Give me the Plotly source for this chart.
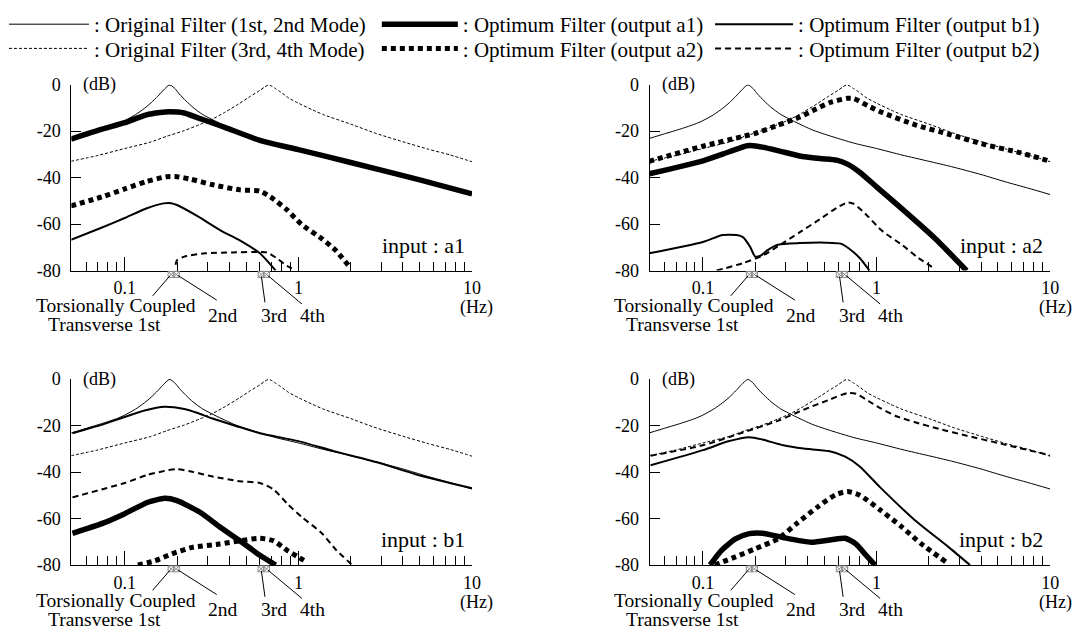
import numpy as np
import plotly.graph_objects as go

# ---------------- data ----------------
# Original filters (identical in all four panels)
ORIG12_HZ = [0.049, 0.06, 0.075, 0.09, 0.1, 0.115, 0.13, 0.142, 0.155, 0.165, 0.175, 0.18, 0.185,
             0.195, 0.206, 0.225, 0.247, 0.28, 0.326, 0.38, 0.43, 0.5, 0.59, 0.75, 1.0, 1.4, 2.0,
             2.7, 4.0, 5.5, 7.5, 10]
ORIG12_DB = [-23.2, -21.2, -19.0, -17.0, -15.5, -13.0, -10.2, -7.8, -5.0, -2.8, -0.9, -0.2, -0.4,
             -1.8, -4.0, -7.0, -9.8, -12.8, -15.4, -17.8, -19.6, -21.3, -23.0, -25.3, -27.5, -30.3,
             -33.0, -35.3, -38.7, -41.8, -44.6, -47.3]
ORIG34_HZ = [0.049, 0.07, 0.1, 0.14, 0.175, 0.22, 0.27, 0.317, 0.38, 0.46, 0.53, 0.6, 0.64, 0.67,
             0.7, 0.74, 0.79, 0.88, 1.0, 1.2, 1.4, 2.0, 2.8, 4.0, 5.6, 7.5, 10]
ORIG34_DB = [-33.0, -30.5, -27.5, -24.8, -22.2, -19.8, -17.2, -15.0, -11.8, -8.0, -5.0, -2.5, -1.0,
             -0.2, -0.6, -1.8, -3.2, -5.8, -8.0, -10.8, -13.0, -17.0, -21.0, -24.6, -27.8, -30.3, -33.2]

# input a1
IN_A1_OUT_A1_HZ = [0.049, 0.074, 0.1, 0.133, 0.16, 0.18, 0.22, 0.264, 0.317, 0.38, 0.6, 1.0, 2.0, 5.0, 10]
IN_A1_OUT_A1_DB = [-23.5, -19.2, -16.4, -13.0, -12.0, -11.7, -12.2, -14.3, -16.4, -18.5, -24.0, -28.0,
                   -33.5, -41.0, -47.0]
IN_A1_OUT_A2_HZ = [0.049, 0.074, 0.1, 0.133, 0.175, 0.2, 0.24, 0.317, 0.46, 0.6, 0.69, 0.86, 1.04,
                   1.37, 1.64, 1.95]
IN_A1_OUT_A2_DB = [-52.2, -48.3, -44.9, -41.7, -39.6, -39.6, -40.7, -43.0, -45.3, -45.8, -48.3, -53.9,
                   -60.1, -66.4, -71.3, -78.0]
IN_A1_OUT_B1_HZ = [0.049, 0.074, 0.1, 0.133, 0.167, 0.185, 0.2, 0.264, 0.36, 0.46, 0.6, 0.74]
IN_A1_OUT_B1_DB = [-66.8, -61.5, -57.4, -53.3, -51.1, -51.0, -51.8, -56.7, -62.9, -67.0, -72.6, -80.0]
IN_A1_OUT_B2_HZ = [0.196, 0.2, 0.22, 0.29, 0.42, 0.55, 0.66, 0.75, 0.86, 0.95]
IN_A1_OUT_B2_DB = [-77.5, -75.5, -74.0, -72.6, -72.2, -72.0, -72.2, -74.7, -78.0, -79.6]

# input a2
IN_A2_OUT_A1_HZ = [0.049, 0.1, 0.142, 0.18, 0.206, 0.27, 0.36, 0.47, 0.59, 0.68, 0.8, 1.0, 1.35, 2.13, 3.3]
IN_A2_OUT_A1_DB = [-38.4, -32.8, -28.9, -26.3, -26.5, -28.4, -30.7, -31.8, -32.5, -34.2, -37.7, -44.0,
                   -52.4, -65.6, -80.0]
IN_A2_OUT_A2_HZ = [0.049, 0.1, 0.17, 0.2, 0.27, 0.36, 0.43, 0.54, 0.68, 0.74, 0.89, 1.07, 1.7, 2.68,
                   4.2, 6.7, 10]
IN_A2_OUT_A2_DB = [-33.0, -26.5, -22.3, -21.0, -17.5, -14.0, -11.2, -7.7, -5.9, -6.0, -9.1, -11.9,
                   -17.5, -21.6, -25.8, -29.3, -33.0]
IN_A2_OUT_B1_HZ = [0.049, 0.1, 0.13, 0.156, 0.17, 0.187, 0.2, 0.215, 0.236, 0.27, 0.36, 0.51, 0.62,
                   0.69, 0.8, 0.91]
IN_A2_OUT_B1_DB = [-72.6, -67.7, -64.7, -64.7, -65.6, -69.8, -74.0, -73.6, -71.2, -68.9, -68.2, -68.0,
                   -68.4, -70.4, -74.6, -80.0]
IN_A2_OUT_B2_HZ = [0.12, 0.17, 0.225, 0.27, 0.36, 0.47, 0.59, 0.68, 0.74, 0.89, 1.07, 1.41, 1.7, 2.13]
IN_A2_OUT_B2_DB = [-80.0, -76.8, -73.3, -69.6, -63.6, -58.0, -53.0, -50.7, -51.3, -56.6, -62.8, -69.1,
                   -74.0, -78.9]

# input b1
IN_B1_OUT_A1_HZ = [0.05, 0.075, 0.1, 0.136, 0.17, 0.2, 0.27, 0.35, 0.46, 0.6, 0.74]
IN_B1_OUT_A1_DB = [-66.4, -62.0, -57.9, -53.0, -51.3, -52.3, -57.2, -63.4, -69.6, -75.8, -80.0]
IN_B1_OUT_A2_HZ = [0.119, 0.149, 0.187, 0.245, 0.35, 0.46, 0.6, 0.72, 0.865, 1.0, 1.13]
IN_B1_OUT_A2_DB = [-80.0, -78.2, -75.2, -72.4, -71.0, -69.6, -68.5, -69.6, -73.8, -76.6, -79.0]
IN_B1_OUT_B1_HZ = [0.05, 0.075, 0.1, 0.13, 0.17, 0.22, 0.26, 0.32, 0.45, 0.6, 1.0, 1.6, 2.8, 5.0, 10]
IN_B1_OUT_B1_DB = [-23.3, -19.5, -16.3, -13.5, -11.9, -12.9, -14.5, -17.0, -20.5, -23.3, -26.7, -31.0,
                   -35.7, -41.5, -47.0]
IN_B1_OUT_B2_HZ = [0.05, 0.1, 0.136, 0.178, 0.2, 0.245, 0.32, 0.46, 0.6, 0.72, 0.865, 1.04, 1.36, 1.63, 2.04]
IN_B1_OUT_B2_DB = [-50.9, -44.7, -41.2, -39.2, -38.8, -39.9, -41.9, -44.0, -44.7, -47.5, -53.7, -59.2,
                   -66.2, -73.1, -80.0]

# input b2
IN_B2_OUT_A1_HZ = [0.11, 0.128, 0.154, 0.185, 0.22, 0.29, 0.42, 0.55, 0.66, 0.76, 0.87, 0.98]
IN_B2_OUT_A1_DB = [-80.0, -73.7, -68.8, -66.5, -66.3, -68.2, -70.2, -69.1, -68.5, -70.9, -75.8, -80.0]
IN_B2_OUT_A2_HZ = [0.117, 0.154, 0.2, 0.27, 0.35, 0.46, 0.58, 0.68, 0.8, 1.05, 1.38, 1.81, 2.5]
IN_B2_OUT_A2_DB = [-80.0, -76.5, -73.0, -68.8, -61.9, -54.9, -49.8, -48.4, -50.0, -56.3, -63.3, -70.9, -78.6]
IN_B2_OUT_B1_HZ = [0.05, 0.1, 0.14, 0.185, 0.22, 0.29, 0.38, 0.53, 0.66, 0.8, 1.05, 1.65, 2.6, 3.45]
IN_B2_OUT_B1_DB = [-37.1, -30.6, -26.8, -25.0, -26.0, -28.5, -29.9, -31.0, -33.4, -37.6, -46.6, -60.5,
                   -72.3, -80.0]
IN_B2_OUT_B2_HZ = [0.05, 0.1, 0.17, 0.27, 0.38, 0.53, 0.68, 0.76, 0.9, 1.05, 1.3, 1.65, 2.3, 3.27, 5.0, 10]
IN_B2_OUT_B2_DB = [-33.0, -28.5, -23.0, -18.0, -13.2, -9.0, -6.0, -6.3, -9.5, -12.5, -16.0, -18.5,
                   -21.5, -24.3, -27.5, -32.8]

# mode frequencies (Torsionally coupled transverse 1st, 2nd, 3rd, 4th)
MODE_HZ = [0.185, 0.198, 0.61, 0.655]

INPUT_LABELS = ["input : a1", "input : a2", "input : b1", "input : b2"]
X_MAJOR = [0.1, 1, 10]
X_MAJOR_TEXT = ["0.1", "1", "10"]
X_MINOR = [0.06, 0.07, 0.08, 0.09, 0.2, 0.3, 0.4, 0.5, 0.6, 0.7, 0.8, 0.9,
           2, 3, 4, 5, 6, 7, 8, 9]
Y_TICKS = [0, -20, -40, -60, -80]
Y_TICK_TEXT = ["0", "-20", "-40", "-60", "-80"]
X_RANGE_HZ = [0.0493, 10]
Y_RANGE_DB = [-80, 0]

SERIES_NAMES = {
    "orig12": ": Original Filter (1st, 2nd Mode)",
    "orig34": ": Original Filter (3rd, 4th Mode)",
    "a1": ": Optimum Filter (output a1)",
    "a2": ": Optimum Filter (output a2)",
    "b1": ": Optimum Filter (output b1)",
    "b2": ": Optimum Filter (output b2)",
}

# ---------------- styling / layout ----------------
FONT = "Liberation Serif, Times New Roman, serif"
STYLE = {
    "orig12": dict(color="black", width=1, dash="solid"),
    "orig34": dict(color="black", width=1, dash="3px,2px"),
    "a1": dict(color="black", width=5.5, dash="solid"),
    "a2": dict(color="black", width=5, dash="5px,4px"),
    "b1": dict(color="black", width=2, dash="solid"),
    "b2": dict(color="black", width=2, dash="6px,4px"),
}
W, H = 1084, 637
PX_PER_DB = 192 / 80
# one legend box per legend entry: (legend id, x px, y px, sample width)
LEGEND_POS = {
    "orig12": ("legend", 4, 15, 80),
    "a1": ("legend2", 380, 15, 76),
    "b1": ("legend3", 716, 15, 78),
    "orig34": ("legend4", 4, 40, 80),
    "a2": ("legend5", 380, 40, 76),
    "b2": ("legend6", 716, 40, 78),
}

XDOM = [[72 / W, 476 / W], [655 / W, 1059 / W]]
YDOM = [[1 - 269 / H, 1 - 77 / H], [1 - 573 / H, 1 - 381 / H]]
MARK_PAD_PX = 8                     # marker axis reaches 8 px below the frequency axis
MARK_Y = Y_RANGE_DB[0] - 4 / PX_PER_DB

panels = [
    dict(a1=(IN_A1_OUT_A1_HZ, IN_A1_OUT_A1_DB), a2=(IN_A1_OUT_A2_HZ, IN_A1_OUT_A2_DB),
         b1=(IN_A1_OUT_B1_HZ, IN_A1_OUT_B1_DB), b2=(IN_A1_OUT_B2_HZ, IN_A1_OUT_B2_DB)),
    dict(a1=(IN_A2_OUT_A1_HZ, IN_A2_OUT_A1_DB), a2=(IN_A2_OUT_A2_HZ, IN_A2_OUT_A2_DB),
         b1=(IN_A2_OUT_B1_HZ, IN_A2_OUT_B1_DB), b2=(IN_A2_OUT_B2_HZ, IN_A2_OUT_B2_DB)),
    dict(a1=(IN_B1_OUT_A1_HZ, IN_B1_OUT_A1_DB), a2=(IN_B1_OUT_A2_HZ, IN_B1_OUT_A2_DB),
         b1=(IN_B1_OUT_B1_HZ, IN_B1_OUT_B1_DB), b2=(IN_B1_OUT_B2_HZ, IN_B1_OUT_B2_DB)),
    dict(a1=(IN_B2_OUT_A1_HZ, IN_B2_OUT_A1_DB), a2=(IN_B2_OUT_A2_HZ, IN_B2_OUT_A2_DB),
         b1=(IN_B2_OUT_B1_HZ, IN_B2_OUT_B1_DB), b2=(IN_B2_OUT_B2_HZ, IN_B2_OUT_B2_DB)),
]

fig = go.Figure()
annotations = []
layout_extra = {}

for i, pdata in enumerate(panels):
    n = "" if i == 0 else str(i + 1)
    xa, ya = "x" + n, "y" + n
    ym = "y" + str(i + 5)            # hidden axis carrying the mode markers
    col, row = i % 2, i // 2

    series = [("orig12", ORIG12_HZ, ORIG12_DB), ("orig34", ORIG34_HZ, ORIG34_DB)]
    for key in ["a2", "b2", "b1", "a1"]:
        series.append((key, pdata[key][0], pdata[key][1]))
    for key, hz, db in series:
        fig.add_trace(go.Scatter(
            x=hz, y=db, mode="lines", xaxis=xa, yaxis=ya,
            line=dict(**STYLE[key], shape="spline", smoothing=0.6),
            name=SERIES_NAMES[key], showlegend=(i == 0),
            legend=LEGEND_POS[key][0], legendgroup=key, hoverinfo="skip"))

    fig.add_trace(go.Scatter(
        x=MODE_HZ, y=[MARK_Y] * len(MODE_HZ), mode="markers",
        xaxis=xa, yaxis=ym, showlegend=False, hoverinfo="skip",
        marker=dict(symbol="square-x-open", size=6, color="#8a8a8a", line=dict(width=1))))

    layout_extra["xaxis" + n] = dict(
        type="log", range=[np.log10(X_RANGE_HZ[0]), np.log10(X_RANGE_HZ[1])],
        domain=XDOM[col], anchor=ya, showline=True, linecolor="black", linewidth=1,
        ticks="inside", ticklen=14, tickwidth=1, tickcolor="black",
        tickmode="array", tickvals=X_MAJOR, ticktext=X_MAJOR_TEXT,
        tickfont=dict(family=FONT, size=18, color="black"),
        showgrid=False, zeroline=False, ticklabelstandoff=1,
        minor=dict(tickmode="array", tickvals=X_MINOR, ticks="inside", ticklen=9,
                   tickwidth=1, tickcolor="black", showgrid=False))
    layout_extra["yaxis" + n] = dict(
        range=Y_RANGE_DB, domain=YDOM[row], anchor=xa, showline=True, linecolor="black",
        linewidth=1, ticks="inside", ticklen=10, tickwidth=1, tickcolor="black",
        tickmode="array", tickvals=Y_TICKS, ticktext=Y_TICK_TEXT,
        tickfont=dict(family=FONT, size=18, color="black"),
        showgrid=False, zeroline=False, ticklabelstandoff=6)
    layout_extra["yaxis" + str(i + 5)] = dict(
        range=[Y_RANGE_DB[0] - MARK_PAD_PX / PX_PER_DB, Y_RANGE_DB[1]],
        domain=[YDOM[row][0] - MARK_PAD_PX / H, YDOM[row][1]],
        anchor=xa, visible=False, showgrid=False, zeroline=False)

    xd, yd = xa + " domain", ya + " domain"
    f18 = dict(family=FONT, size=18, color="black")
    f19 = dict(family=FONT, size=19.5, color="black")
    f22 = dict(family=FONT, size=22, color="black")
    annotations += [
        dict(text="(dB)", xref=xd, yref=ya, x=0, y=0, xshift=10, xanchor="left",
             yanchor="middle", showarrow=False, font=f18),
        dict(text=INPUT_LABELS[i], xref=xd, yref=yd, x=1, y=0.135, xshift=-5,
             xanchor="right", yanchor="middle", showarrow=False, font=f22),
        dict(text="(Hz)", xref=xd, yref=yd, x=1.012, y=-0.2, xanchor="center",
             yanchor="middle", showarrow=False, font=f18),
        dict(text="Torsionally Coupled", xref=xd, yref=yd, x=0.112, y=-0.19,
             xanchor="center", yanchor="middle", showarrow=False, font=f19),
        dict(text="Transverse 1st", xref=xd, yref=yd, x=0.083, y=-0.292,
             xanchor="center", yanchor="middle", showarrow=False, font=f19),
        dict(text="2nd", xref=xd, yref=yd, x=0.378, y=-0.24, xanchor="center",
             yanchor="middle", showarrow=False, font=f19),
        dict(text="3rd", xref=xd, yref=yd, x=0.506, y=-0.24, xanchor="center",
             yanchor="middle", showarrow=False, font=f19),
        dict(text="4th", xref=xd, yref=yd, x=0.602, y=-0.24, xanchor="center",
             yanchor="middle", showarrow=False, font=f19),
    ]
    # leader lines from the labels up to the mode markers
    offsets = [(-19, 22), (41, 26), (4, 29), (36, 30)]
    for f, (ax, ay) in zip(MODE_HZ, offsets):
        annotations.append(dict(
            text=" ", xref=xa, yref=ym, x=np.log10(f), y=MARK_Y,
            ax=ax, ay=ay, showarrow=True, arrowhead=0, arrowwidth=1, arrowcolor="black",
            standoff=2, font=dict(size=1), borderpad=0))

for key, (lid, lx, ly, iw) in LEGEND_POS.items():
    layout_extra[lid] = dict(
        x=lx / W, y=1 - ly / H, xanchor="left", yanchor="middle", orientation="v",
        bgcolor="rgba(0,0,0,0)", itemwidth=iw, tracegroupgap=0,
        font=dict(family=FONT, size=21, color="black"))

fig.update_layout(
    width=W, height=H, margin=dict(l=0, r=0, t=0, b=0),
    paper_bgcolor="white", plot_bgcolor="rgba(0,0,0,0)",
    font=dict(family=FONT, size=18, color="black"),
    annotations=annotations,
    **layout_extra,
)

fig.write_html("out.html")
